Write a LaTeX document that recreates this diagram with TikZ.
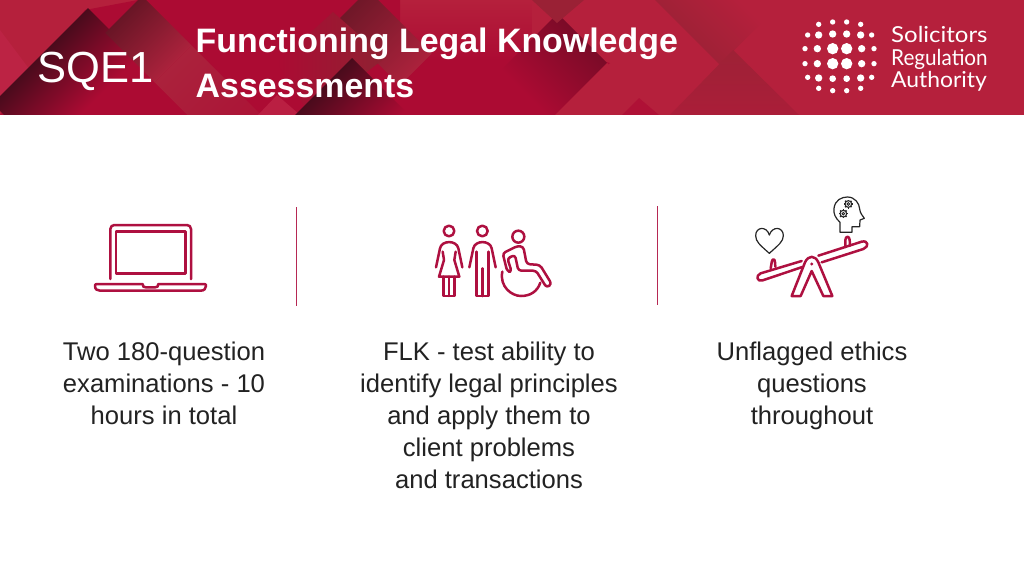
\documentclass[tikz,border=0pt]{standalone}
\usepackage{fontspec}
\setmainfont{Liberation Sans}
\newfontfamily\logofont{Lato}
\definecolor{base}{HTML}{B5203C}
\definecolor{crim}{HTML}{AC0B33}
\definecolor{dk}{HTML}{4A0B1C}
\definecolor{brn}{HTML}{8E2232}
\definecolor{lite}{HTML}{AB223C}
\definecolor{pink}{HTML}{BC2344}
\definecolor{ico}{HTML}{AE1040}
\definecolor{txt}{HTML}{222222}
\tikzset{
  icon/.style={draw=ico,line width=2.5pt,line join=round,line cap=round,fill=none},
  thin icon/.style={draw=black!85,line width=1.2pt,line join=round,fill=none},
  divider/.style={draw=ico!90!white,line width=1.4pt},
  body/.style={font=\fontsize{25.6}{32}\selectfont,text=txt,align=center,anchor=north,inner sep=0pt},
  logotext/.style={anchor=base west,inner sep=0pt,text=white,font=\logofont\fontsize{22}{23}\selectfont,transform shape},
  zoomed/.style={x=0.33333pt,y=-0.33333pt}
}
% origin x, origin y, angle, gradient length, breadth, first colour, last colour
\newcommand{\gradband}[7]{\begin{scope}[transform canvas={shift={(#1,#2)},rotate=#3}]
  \shade[left color=#6,right color=#7] (0,0) rectangle (#4,#5);\end{scope}}
\begin{document}
\begin{tikzpicture}[x=1pt,y=-1pt]
\useasboundingbox (0,0) rectangle (1024,576);
\fill[white] (0,0) rectangle (1024,576);
% banner
\begin{scope}
\clip (0,0) rectangle (1024,115);
\fill[base] (0,0) rectangle (1024,115);
\fill[crim] (138,0) -- (335,0) -- (420,50) -- (560,50) -- (610,63) -- (555,115) -- (0,115) -- (85,10) -- cycle;
\shade[top color=base,bottom color=crim] (400,0) rectangle (560,60);
\fill[crim] (335,0) -- (400,0) -- (400,60) -- cycle;
% left dark
\fill[pink] (0,30) -- (30,70) -- (0,100) -- cycle;
\gradband{88}{8}{-45}{70}{135}{dk}{crim}
% brown band
\gradband{142}{-4}{-45}{70}{52}{dk!55!brn}{lite}
\gradband{191.5}{45.5}{-45}{110}{52}{lite}{crim!70!lite}
% top band of the middle
\gradband{368}{-10}{-45}{90}{45}{dk!45!brn}{lite}
% brown diamond
\shade[left color=crim,right color=brn] (277,63) -- (333,12) -- (385,58) -- (310,115) -- cycle;
\fill[pink!85!crim] (258,115) -- (277,95) -- (300,115) -- cycle;
\gradband{352}{58}{-45}{75}{82}{dk}{crim}
% dark behind Knowledge
\fill[base] (532,0) rectangle (640,60);
\gradband{607}{63}{-135}{80}{70}{dk!50!crim}{crim}
\fill[brn!70!base] (532,0) -- (584,0) -- (557,23) -- cycle;
% light triangle
\fill[base] (607,63) -- (555,115) -- (664,115) -- cycle;
\fill[crim!70!base] (622,115) -- (639,98) -- (659,115) -- cycle;
% right side
\gradband{649}{-6}{45}{60}{100}{brn!55!base}{base}
\shade[top color=brn!60!base,bottom color=base!90!dk] (733,50) -- (670,115) -- (799,115) -- cycle;
\end{scope}
\fill[white] (0,115) rectangle (1024,125);
% logo
\begin{scope}[shift={(795,10)},zoomed]
\foreach \px/\py/\pr in {71/43/8,113/36/8,155/36/8,197/43/8,
  38/75/8,71/75/11,113/72/11,155/72/11,197/75/11,230/75/8,
  30/116/8,67/116/11,113/116/17,155/116/17,200/116/11,237/116/8,
  30/161/8,67/161/11,113/161/17,155/161/17,200/161/11,237/161/8,
  38/202/8,71/204/11,113/206/10,155/206/10,197/204/11,230/202/8,
  71/235/8,113/242/8,155/242/8,197/235/8}
  \fill[white] (\px,\py) circle[radius=\pr];
\end{scope}
\node[logotext,xscale=1.09] (solic) at (891,42) {Solicitors};
\node[logotext,xscale=.94] (regul) at (891,65) {Regulation};
\node[logotext,xscale=1.04] (auth) at (891,87) {Authority};
% titles
\node[anchor=base west,inner sep=0pt,text=white,font=\fontsize{43.5}{44}\selectfont] (sqe) at (37,82) {SQE1};
\node[anchor=base west,inner sep=0pt,text=white,font=\bfseries\fontsize{33.9}{44}\selectfont] (t1) at (195.5,52.5) {Functioning Legal Knowledge};
\node[anchor=base west,inner sep=0pt,text=white,font=\bfseries\fontsize{33.9}{44}\selectfont] (t2) at (195.5,97) {Assessments};
% dividers
\coordinate (d1a) at (296.5,207); \coordinate (d1b) at (296.5,306);
\coordinate (d2a) at (657.5,206); \coordinate (d2b) at (657.5,305);
\draw[divider] (d1a) -- (d1b);
\draw[divider] (d2a) -- (d2b);
% laptop
\begin{scope}[shift={(80,200)},zoomed]
\draw[icon,rounded corners=4pt] (91,237) -- (91,75) -- (333,75) -- (333,237);
\draw[icon,line cap=butt] (108,95) rectangle (316,220);
\draw[icon] (188,252) -- (52,252) .. controls (45,252) and (45,254) .. (45,258) .. controls (45,268) and (52,272) .. (60,272) -- (362,272) .. controls (372,272) and (378,266) .. (378,258) .. controls (378,254) and (378,252) .. (372,252) -- (235,252) .. controls (235,260) and (232,262) .. (225,262) -- (198,262) .. controls (190,262) and (188,260) .. (188,252);
\end{scope}
% people
\begin{scope}[shift={(420,210)},zoomed]
\draw[icon] (87,63) circle[radius=16];
\draw[icon] (187,63) circle[radius=16];
\draw[icon] (295,80) circle[radius=18];
% woman
\draw[icon] (48,172) -- (60,115) .. controls (65,90) and (110,90) .. (115,115) -- (127,172);
\draw[icon] (68,125) -- (72,150) -- (57,200) -- (118,200) -- (103,150) -- (107,125);
\draw[icon] (70,200) -- (70,258) -- (104,258) -- (104,200);
\draw[icon] (87,200) -- (87,258);
% man
\draw[icon] (148,172) -- (160,115) .. controls (165,90) and (210,90) .. (215,115) -- (227,172);
\draw[icon] (170,125) -- (170,258) -- (205,258) -- (205,125);
\draw[icon] (187,175) -- (187,258);
% wheelchair
\draw[icon,rounded corners=3pt] (248,130) -- (292,108) -- (310,110) -- (320,162) -- (360,165) -- (395,222) -- (380,233) -- (348,182) -- (295,182) -- (285,135) -- (262,145) -- (275,185) -- (262,185) -- cycle;
\draw[icon] (247,185) .. controls (238,230) and (275,258) .. (303,258) .. controls (330,258) and (352,245) .. (361,218);
\end{scope}
% seesaw
\begin{scope}[shift={(740,185)},zoomed]
\draw[icon] (185,228) -- (62,265) .. controls (45,272) and (52,292) .. (68,286) -- (187,246);
\draw[icon] (235,212) -- (365,170) .. controls (385,165) and (388,185) .. (370,192) -- (245,232);
\draw[icon] (92,250) -- (95,232) .. controls (96,220) and (105,220) .. (105,232) -- (106,245);
\draw[icon] (316,186) -- (316,165) .. controls (317,152) and (328,152) .. (329,165) -- (330,182);
\draw[icon] (155,333) -- (195,232) .. controls (205,210) and (225,210) .. (235,232) -- (277,333) -- (250,333) -- (215,258) -- (182,333) -- cycle;
\fill[ico] (215,237) circle[radius=5];
\draw[thin icon] (88,205) .. controls (60,180) and (47,170) .. (47,152) .. controls (47,125) and (80,122) .. (88,150) .. controls (97,122) and (130,125) .. (130,152) .. controls (130,170) and (115,180) .. (88,205) -- cycle;
\draw[thin icon] (300,142) -- (300,112) .. controls (285,98) and (280,85) .. (282,70) .. controls (285,45) and (305,36) .. (322,36) .. controls (345,36) and (358,55) .. (359,72) .. controls (360,85) and (368,92) .. (373,100) -- (360,105) -- (359,125) -- (336,125) -- (336,142) -- cycle;
\foreach \gx/\gy in {325/57,310/86}{
  \draw[black!85,line width=1.1pt] (\gx,\gy) circle[radius=10];
  \draw[black!85,line width=.9pt] (\gx,\gy) circle[radius=4];
  \foreach \ga in {0,45,...,315}
    \draw[black!85,line width=1.5pt] (\gx,\gy) ++(\ga:10) -- ++(\ga:3.5);
}
\end{scope}
% text
\node[body] (c1) at (164,342) {Two 180-question\\examinations - 10\\hours in total};
\node[body] (c2) at (489,342) {FLK - test ability to\\identify legal principles\\and apply them to\\client problems\\and transactions};
\node[body] (c3) at (812,342) {Unflagged ethics\\questions\\throughout};
\end{tikzpicture}
\end{document}
